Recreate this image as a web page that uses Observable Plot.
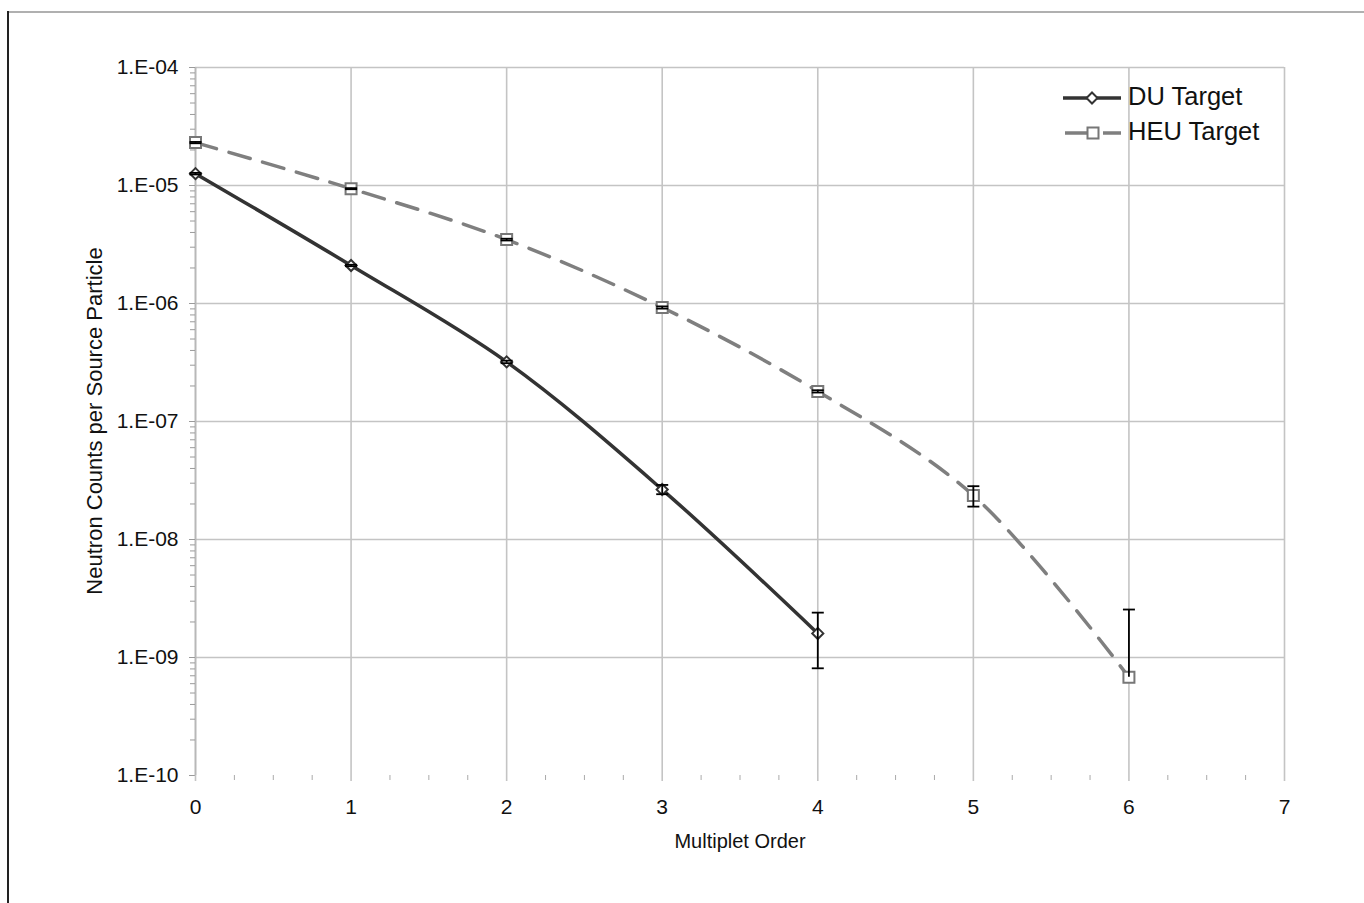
<!DOCTYPE html>
<html><head><meta charset="utf-8">
<script src="https://cdn.jsdelivr.net/npm/d3@7"></script>
<script src="https://cdn.jsdelivr.net/npm/@observablehq/plot@0.6"></script>
<style>
body{margin:0;background:#fff;}
#wrap{position:relative;width:1364px;height:903px;overflow:hidden;font-family:"Liberation Sans",Arial,sans-serif;background:#fff}
#wrap > svg{position:absolute;left:0;top:0}
.frameL{position:absolute;left:7px;top:11px;width:2px;height:892px;background:#222}
.frameT{position:absolute;left:8px;top:11px;width:1356px;height:2px;background:#b0b0b0}
</style></head><body><div id="wrap"><div class="frameT"></div><div class="frameL"></div></div>
<script>
// ---- data ----
const orders = [0, 1, 2, 3, 4, 5, 6, 7];
const xTickLabels = ["0", "1", "2", "3", "4", "5", "6", "7"];
const decades = [1e-10, 1e-9, 1e-8, 1e-7, 1e-6, 1e-5, 1e-4];
const yTickLabels = ["1.E-10", "1.E-09", "1.E-08", "1.E-07", "1.E-06", "1.E-05", "1.E-04"];

const duOrder = [0, 1, 2, 3, 4];
const duValue = [1.26e-5, 2.1e-6, 3.2e-7, 2.65e-8, 1.6e-9];
const duLow   = [1.24e-5, 2.07e-6, 3.12e-7, 2.42e-8, 8.1e-10];
const duHigh  = [1.28e-5, 2.13e-6, 3.28e-7, 2.9e-8, 2.4e-9];

const heuOrder = [0, 1, 2, 3, 4, 5, 6];
const heuValue = [2.31e-5, 9.4e-6, 3.48e-6, 9.25e-7, 1.8e-7, 2.36e-8, 6.8e-10];
const heuLow   = [2.28e-5, 9.3e-6, 3.42e-6, 9.05e-7, 1.76e-7, 1.9e-8, 6.8e-10];
const heuHigh  = [2.34e-5, 9.5e-6, 3.54e-6, 9.45e-7, 1.84e-7, 2.83e-8, 2.55e-9];

const seriesNames = ["DU Target", "HEU Target"];
const xTitle = "Multiplet Order";
const yTitle = "Neutron Counts per Source Particle";

// ---- tables ----
const du = duOrder.map((x, i) => ({x, y: duValue[i], lo: duLow[i], hi: duHigh[i]}));
const heu = heuOrder.map((x, i) => ({x, y: heuValue[i], lo: heuLow[i], hi: heuHigh[i]}));
const caps = [];
for (const d of [...du, ...heu]) {
  caps.push({x: d.x, y: d.hi});
  if (d.lo !== d.y) caps.push({x: d.x, y: d.lo});
}
const minorY = [];
for (const d of decades.slice(0, -1)) for (let m = 2; m <= 9; m++) minorY.push(d * m);
const minorX = [];
for (let i = 0; i < 7; i++) for (const f of [0.25, 0.5, 0.75]) minorX.push(i + f);

const capSymbol = {draw(ctx) { ctx.moveTo(-6, 0); ctx.lineTo(6, 0); }};
const grid = "#c4c4c4";

const chart = Plot.plot({
  width: 1364, height: 903,
  marginLeft: 195, marginRight: 80, marginTop: 67, marginBottom: 128,
  style: {fontFamily: '"Liberation Sans", Arial, sans-serif', fontSize: "21px", background: "transparent"},
  x: {domain: [0, 7]},
  y: {type: "log", domain: [1e-10, 1e-4]},
  marks: [
    Plot.ruleY(decades.slice(1), {y: d => d, x1: 0, x2: 7, stroke: grid, strokeWidth: 1.6}),
    Plot.ruleX(orders.slice(1), {x: d => d, y1: 1e-10, y2: 1e-4, stroke: grid, strokeWidth: 1.6}),
    Plot.ruleX([0], {x: d => d, y1: 1e-10, y2: 1e-4, stroke: "#b8b8b8", strokeWidth: 2}),
    Plot.axisY({ticks: minorY, tickSize: 5, tickFormat: () => "", stroke: "#9a9a9a", label: null}),
    Plot.axisY({ticks: decades, tickSize: 0, tickPadding: 17, tickFormat: d => yTickLabels[decades.indexOf(d)], fill: "#111", fontSize: 21, label: null}),
    Plot.axisY({ticks: decades, tickSize: 6, tickFormat: () => "", stroke: "#9a9a9a", label: null}),
    Plot.axisX({ticks: minorX, tickSize: 5, tickFormat: () => "", stroke: "#aaaaaa", label: null}),
    Plot.axisX({ticks: orders, tickSize: 6, tickFormat: () => "", stroke: grid, strokeWidth: 1.6, label: null}),
    Plot.axisX({ticks: orders, tickSize: 0, tickPadding: 24, tickFormat: d => xTickLabels[orders.indexOf(d)], fill: "#111", fontSize: 21, label: null}),
    Plot.line(heu, {x: "x", y: "y", curve: "catmull-rom", stroke: "#7f7f7f", strokeWidth: 3.5, strokeDasharray: "22,13"}),
    Plot.line(du, {x: "x", y: "y", curve: "catmull-rom", stroke: "#333333", strokeWidth: 3.5}),
    Plot.dot(heu, {x: "x", y: "y", symbol: "square2", r: 7, stroke: "#777", fill: "white", strokeWidth: 2}),
    Plot.dot(du, {x: "x", y: "y", symbol: "diamond2", r: 5, stroke: "#333", fill: "white", strokeWidth: 2}),
    Plot.ruleX([...du, ...heu], {x: "x", y1: "lo", y2: "hi", stroke: "#000", strokeWidth: 1.8}),
    Plot.dot(caps, {x: "x", y: "y", symbol: capSymbol, stroke: "#000", strokeWidth: 1.8, fill: "none"})
  ]
});
document.getElementById("wrap").appendChild(chart);

// titles and legend
const svg = d3.select(chart);
const font = '"Liberation Sans", Arial, sans-serif';
svg.append("text").attr("transform", "translate(96,421) rotate(-90)")
  .attr("text-anchor", "middle").attr("dominant-baseline", "middle")
  .attr("font-family", font).attr("font-size", 22).attr("fill", "#111").text(yTitle);
svg.append("text").attr("x", 740).attr("y", 843)
  .attr("text-anchor", "middle").attr("dominant-baseline", "middle")
  .attr("font-family", font).attr("font-size", 20).attr("fill", "#111").text(xTitle);

const lg = svg.append("g");
lg.append("line").attr("x1", 1063).attr("x2", 1121).attr("y1", 98).attr("y2", 98).attr("stroke", "#333").attr("stroke-width", 3.5);
lg.append("path").attr("d", "M0,-5.5L5.5,0L0,5.5L-5.5,0Z").attr("transform", "translate(1092,98)").attr("fill", "white").attr("stroke", "#333").attr("stroke-width", 2);
lg.append("line").attr("x1", 1065).attr("x2", 1121).attr("y1", 133).attr("y2", 133).attr("stroke", "#7f7f7f").attr("stroke-width", 3.5).attr("stroke-dasharray", "22,16");
lg.append("path").attr("d", "M-5.5,-5.5H5.5V5.5H-5.5Z").attr("transform", "translate(1093,133)").attr("fill", "white").attr("stroke", "#777").attr("stroke-width", 2);
seriesNames.forEach((n, i) => {
  lg.append("text").attr("x", 1128).attr("y", 98 + 35 * i).attr("dominant-baseline", "middle").attr("text-anchor", "start")
    .attr("font-family", font).attr("font-size", 25.5).attr("fill", "#111").text(n);
});
</script></body></html>
